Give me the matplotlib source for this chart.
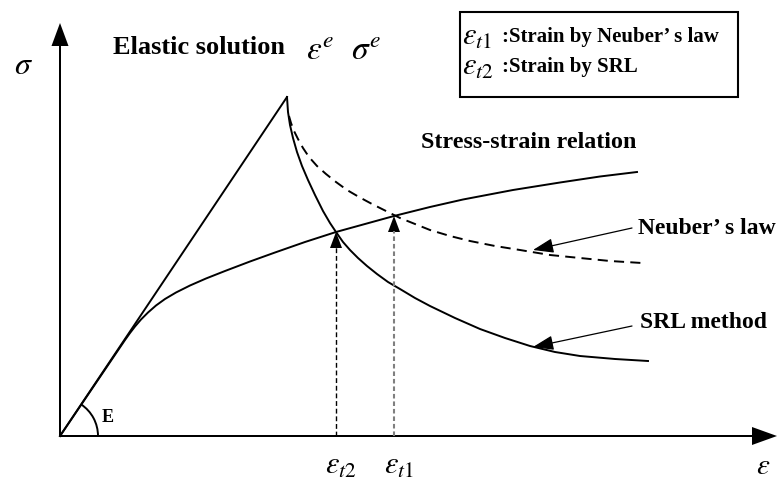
import numpy as np
import matplotlib
matplotlib.use('Agg')
import matplotlib.pyplot as plt
from matplotlib.patches import Arc, Rectangle

plt.rcParams['font.family'] = ['Liberation Serif', 'DejaVu Serif']
plt.rcParams['mathtext.fontset'] = 'stix'

#-------------------------------------------------------------------------------
# data (strain, stress) in arbitrary units
#-------------------------------------------------------------------------------
# elastic line: origin -> elastic solution point
elastic_x = [0, 227]
elastic_y = [0, 339]

# stress-strain relation
ss_x = [0, 65, 70, 75, 81, 88, 96, 105, 116, 130, 146, 165, 190, 215, 245, 276,
        305, 334, 370, 403, 453, 500, 540, 577]
ss_y = [0, 96, 103, 109.5, 116.5, 123.5, 130.5, 137, 143.5, 150.5, 157.5, 165, 174.5,
        183.5, 194, 204, 212, 220, 229, 236.5, 246, 253.5, 259.5, 264]

# SRL method curve
srl_x = [227, 228, 230, 233, 237, 242, 248, 255, 263, 270, 276, 283, 290, 298, 307,
         317, 328, 340, 355, 370, 395, 420, 445, 470, 495, 520, 555, 588]
srl_y = [339, 324, 311, 298, 284, 270, 256, 241, 225, 213, 204, 194, 186, 178, 170,
         162, 154, 147, 138, 130, 118, 107, 98, 90, 84, 80, 77, 75]

# Neuber's law curve
neu_x = [229, 231, 234, 238, 243, 249, 257, 266, 276, 287, 299, 312, 326, 340, 355,
         370, 390, 410, 435, 460, 490, 520, 550, 582]
neu_y = [320, 313, 305, 297, 288, 279, 270, 262, 254, 246, 239, 232, 225, 218, 212,
         206, 200, 195, 190, 186, 181, 178, 175, 173]

# intersections
eps_t2, sig_t2 = 276, 204
eps_t1, sig_t1 = 334, 220

#-------------------------------------------------------------------------------
fig = plt.figure(figsize=(7.8, 4.8), dpi=100)
ax = fig.add_axes([0, 0, 1, 1])
ax.set_xlim(-60, 720)
ax.set_ylim(-44, 436)
ax.axis('off')

# axes with arrows
ax.arrow(0, 0, 717, 0, width=2, head_width=18, head_length=25, length_includes_head=True,
         fc='black', ec='black', lw=0)
ax.arrow(0, 0, 0, 413, width=2, head_width=17, head_length=23, length_includes_head=True,
         fc='black', ec='black', lw=0)

# curves
ax.plot(elastic_x, elastic_y, '-', color='black', lw=1.4, solid_joinstyle='round')
ax.plot(ss_x, ss_y, '-', color='black', lw=1.4, solid_joinstyle='round')
ax.plot(srl_x, srl_y, '-', color='black', lw=1.4, solid_joinstyle='round')
ax.plot(neu_x, neu_y, '--', color='black', lw=1.4, dashes=(5.2, 3.2))

# E angle
ang = np.degrees(np.arctan2(elastic_y[1], elastic_x[1]))
ax.add_patch(Arc((0, 0), 76, 76, theta1=0, theta2=ang, color='black', lw=1.4))
ax.text(48, 19, 'E', fontsize=13, fontweight='bold', ha='center', va='center')

# vertical dashed arrows up to intersections
ax.plot([eps_t2, eps_t2], [0, sig_t2 - 15], color='black', lw=1, dashes=(3.5, 2))
ax.arrow(eps_t2, sig_t2 - 16, 0, 16, width=0.1, head_width=12, head_length=16,
         length_includes_head=True, fc='black', ec='black', lw=0)
ax.plot([eps_t1, eps_t1], [0, sig_t1 - 15], color='#808080', lw=1.5, dashes=(2.2, 1.4))
ax.arrow(eps_t1, sig_t1 - 16, 0, 16, width=0.1, head_width=12, head_length=16,
         length_includes_head=True, fc='black', ec='black', lw=0)

# pointers to curves
ax.annotate('', xy=(473, 186), xytext=(572, 208),
            arrowprops=dict(arrowstyle='-|>,head_length=0.9,head_width=0.32', color='black',
                            lw=0.9, shrinkA=0, shrinkB=0, mutation_scale=14))
ax.annotate('', xy=(473, 89), xytext=(572, 110),
            arrowprops=dict(arrowstyle='-|>,head_length=0.9,head_width=0.32', color='black',
                            lw=0.9, shrinkA=0, shrinkB=0, mutation_scale=14))

# texts
ax.text(-37, 369, r'$\sigma$', fontsize=23, ha='center', va='center')
ax.text(703, -31, r'$\varepsilon$', fontsize=21, ha='center', va='center')
ax.text(53, 389, 'Elastic solution', fontsize=19, fontweight='bold', ha='left', va='center')
ax.text(246, 384, r'$\varepsilon^{e}$', fontsize=24, ha='left', va='center')
ax.text(291, 384, r'$\sigma^{e}$', fontsize=24, ha='left', va='center')
ax.text(361, 294, 'Stress-strain relation', fontsize=17.3, fontweight='bold', ha='left', va='center')
ax.text(578, 208, 'Neuber\u2019 s law', fontsize=17, fontweight='bold', ha='left', va='center')
ax.text(580, 113, 'SRL method', fontsize=17, fontweight='bold', ha='left', va='center')
ax.text(eps_t2 + 5, -30, r'$\varepsilon_{t2}$', fontsize=22, ha='center', va='center')
ax.text(eps_t1 + 5, -30, r'$\varepsilon_{t1}$', fontsize=22, ha='center', va='center')

# legend box
ax.add_patch(Rectangle((400, 339), 278, 85, fill=True, fc='white', ec='black', lw=1.5))
ax.text(402, 399, r'$\varepsilon_{t1}$', fontsize=22, ha='left', va='center')
ax.text(442, 399, ':Strain by Neuber\u2019 s law', fontsize=15, fontweight='bold', ha='left', va='center')
ax.text(402, 369, r'$\varepsilon_{t2}$', fontsize=22, ha='left', va='center')
ax.text(442, 369, ':Strain by SRL', fontsize=15, fontweight='bold', ha='left', va='center')

fig.savefig('out.png', dpi=100)
